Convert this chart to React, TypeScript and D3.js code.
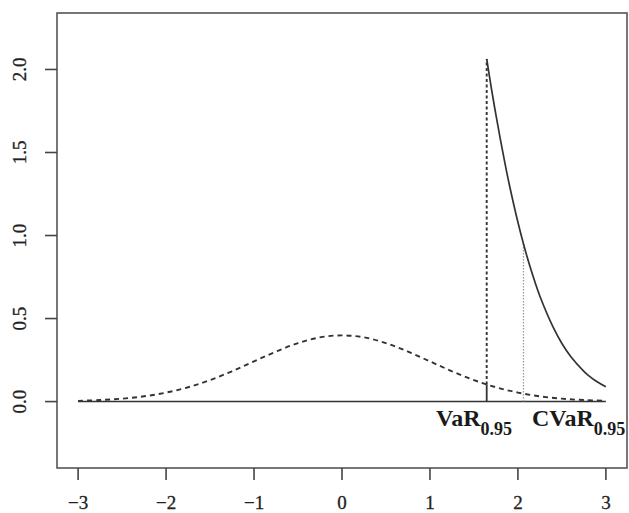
import React from 'react';
import * as d3 from 'd3';

// standard normal density
const normX = [-3, -2.75, -2.5, -2.25, -2, -1.75, -1.5, -1.25, -1, -0.75, -0.5, -0.25, 0, 0.25, 0.5, 0.75, 1, 1.25, 1.5, 1.75, 2, 2.25, 2.5, 2.75, 3];
const normY = [0.0044, 0.0091, 0.0175, 0.0317, 0.054, 0.0863, 0.1295, 0.1826, 0.242, 0.3011, 0.3521, 0.3867, 0.3989, 0.3867, 0.3521, 0.3011, 0.242, 0.1826, 0.1295, 0.0863, 0.054, 0.0317, 0.0175, 0.0091, 0.0044];

// tail density beyond VaR (solid curve)
const tailX = [1.645, 1.7, 1.75, 1.8, 1.85, 1.9, 2.0, 2.1, 2.2, 2.25, 2.4, 2.5, 2.6, 2.75, 2.8, 2.9, 3.0];
const tailY = [2.063, 1.88, 1.726, 1.58, 1.442, 1.312, 1.08, 0.88, 0.71, 0.634, 0.448, 0.35, 0.272, 0.182, 0.158, 0.119, 0.089];

const varX = 1.645;
const varNormY = 0.103;
const varTopY = 2.063;
const cvarX = 2.063;
const cvarTopY = 0.95;

const xTicks = [-3, -2, -1, 0, 1, 2, 3];
const yTicks = [0, 0.5, 1, 1.5, 2];

const W = 629;
const H = 513;
const left = 57, right = 627, top = 13, bottom = 468;

export default function App() {
  const x = d3.scaleLinear().domain([-3.24, 3.24]).range([left, right]);
  const y = d3.scaleLinear().domain([-0.4, 2.34]).range([bottom, top]);

  const normLine = d3.line<number>()
    .x((_, i) => x(normX[i]))
    .y((d) => y(d))
    .curve(d3.curveCatmullRom);
  const tailLine = d3.line<number>()
    .x((_, i) => x(tailX[i]))
    .y((d) => y(d))
    .curve(d3.curveCatmullRom);

  const font = '"Liberation Serif", "DejaVu Serif", serif';
  const ink = '#333';

  return (
    <svg width={W} height={H} style={{ position: 'absolute', left: 0, top: 0, background: '#fff' }}>
      <rect x={left} y={top} width={right - left} height={bottom - top} fill="none" stroke="#555" strokeWidth={1.6} />

      {/* zero line */}
      <line x1={x(-3)} x2={x(3)} y1={y(0)} y2={y(0)} stroke={ink} strokeWidth={1.5} />

      {/* normal density */}
      <path d={normLine(normY) || ''} fill="none" stroke={ink} strokeWidth={1.9} strokeDasharray="5,4" />

      {/* VaR vertical */}
      <line x1={x(varX)} x2={x(varX)} y1={y(0)} y2={y(varNormY)} stroke={ink} strokeWidth={1.8} />
      <line x1={x(varX)} x2={x(varX)} y1={y(varNormY)} y2={y(varTopY)} stroke={ink} strokeWidth={1.9} strokeDasharray="3,2.5" />

      {/* CVaR vertical */}
      <line x1={x(cvarX)} x2={x(cvarX)} y1={y(0)} y2={y(cvarTopY)} stroke="#999" strokeWidth={1.3} strokeDasharray="1.5,1.5" />

      {/* tail density */}
      <path d={tailLine(tailY) || ''} fill="none" stroke={ink} strokeWidth={1.7} />

      {/* labels */}
      <text x={436} y={426} fontFamily={font} fontWeight="bold" fontSize={24} fill="#1a1a1a">
        VaR<tspan fontSize={18} dy={9}>0.95</tspan>
      </text>
      <text x={532} y={426} fontFamily={font} fontWeight="bold" fontSize={24} fill="#1a1a1a">
        CVaR<tspan fontSize={18} dy={9}>0.95</tspan>
      </text>

      {/* x axis */}
      {xTicks.map((t) => (
        <g key={`x${t}`}>
          <line x1={x(t)} x2={x(t)} y1={bottom} y2={bottom + 12} stroke="#444" strokeWidth={1.6} />
          <text x={x(t)} y={509} textAnchor="middle" fontFamily={font} fontSize={19} fill="#222" stroke="#222" strokeWidth={0.3}>
            {t < 0 ? `\u2212${-t}` : t}
          </text>
        </g>
      ))}

      {/* y axis */}
      {yTicks.map((t) => (
        <g key={`y${t}`}>
          <line x1={left - 12} x2={left} y1={y(t)} y2={y(t)} stroke="#444" strokeWidth={1.6} />
          <text
            transform={`translate(26,${y(t)}) rotate(-90)`}
            textAnchor="middle"
            fontFamily={font}
            fontSize={19}
            fill="#222"
            stroke="#222"
            strokeWidth={0.3}
          >
            {t.toFixed(1)}
          </text>
        </g>
      ))}
    </svg>
  );
}
